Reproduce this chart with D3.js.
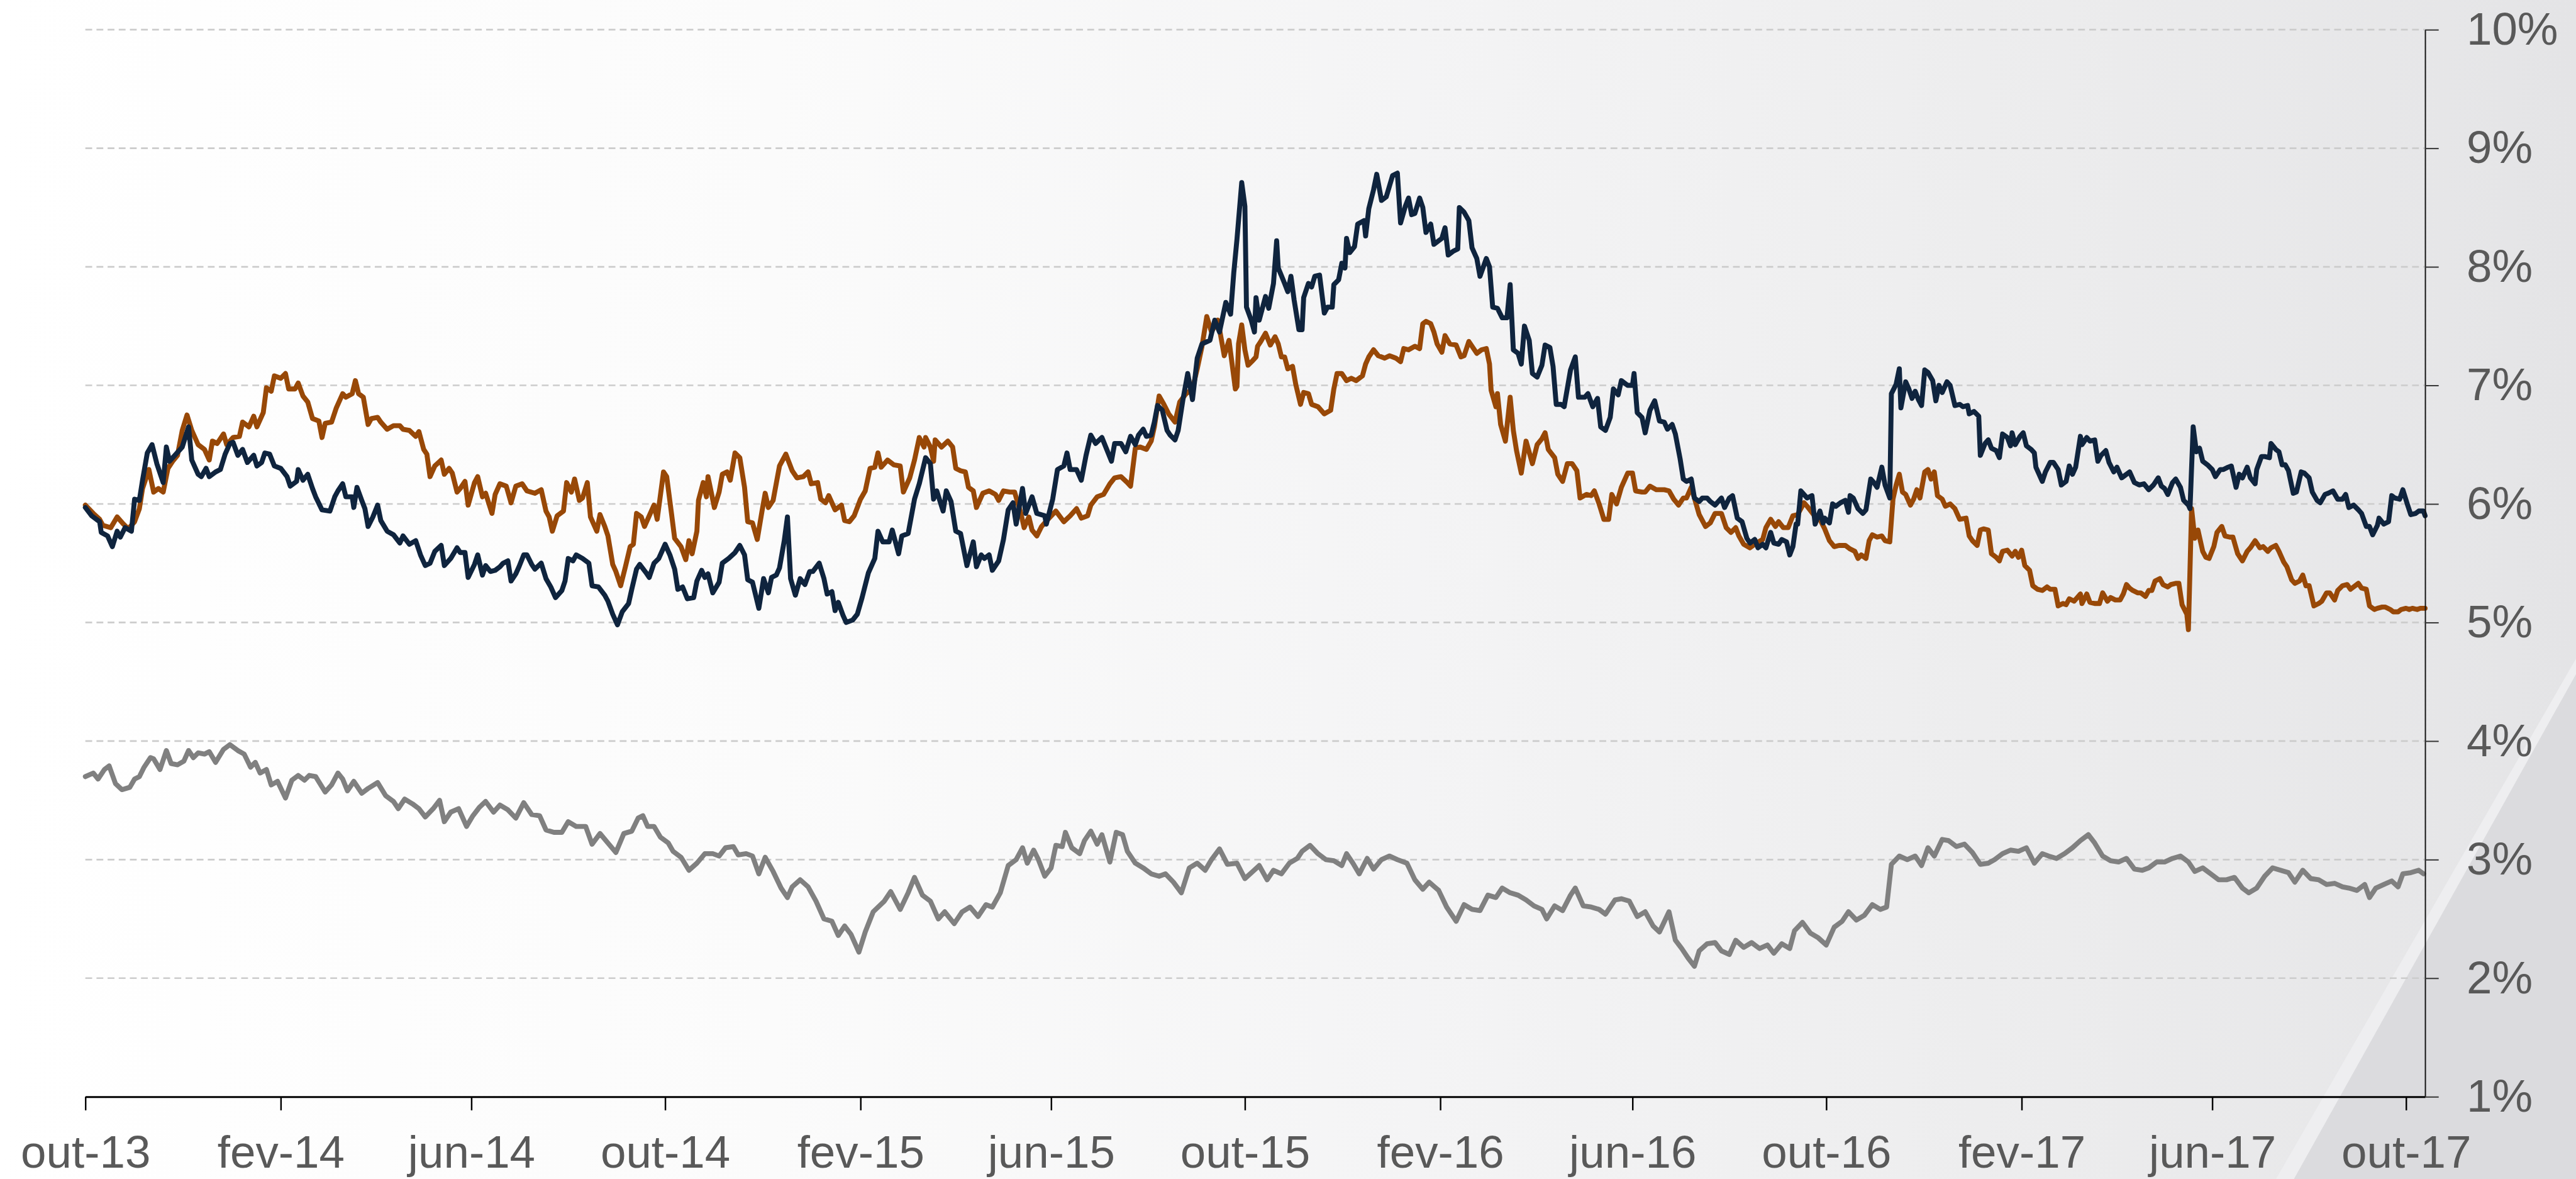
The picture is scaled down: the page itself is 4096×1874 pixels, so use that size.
<!DOCTYPE html>
<html>
<head>
<meta charset="utf-8">
<script src="https://cdn.jsdelivr.net/npm/d3@7"></script>
<style>
  body { margin: 0; overflow: hidden; background: #fff; }
  svg { display: block; }
</style>
</head>
<body>
<figure id="chart_view" style="margin:0"></figure>
<script>
// observation day = days counted from startDay, value = yield in %
const startDay = "2013-10-01";
const endDay = "2017-10-13";
const tickDates = ["2013-10-01", "2014-02-01", "2014-06-01", "2014-10-01", "2015-02-01", "2015-06-01",
  "2015-10-01", "2016-02-01", "2016-06-01", "2016-10-01", "2017-02-01", "2017-06-01", "2017-10-01"];
const yTicks = [1, 2, 3, 4, 5, 6, 7, 8, 9, 10];

const navySeries = [[0,5.97],[4,5.90],[9,5.85],[10,5.76],[14,5.73],[17,5.64],[20,5.77],[22,5.72],[25,5.80],[29,5.77],[31,6.04],[34,6.03],[36,6.20],[39,6.43],[42,6.50],[45,6.34],[49,6.18],[51,6.48],[53,6.36],[57,6.42],[61,6.48],[65,6.65],[67,6.37],[71,6.25],[73,6.23],[76,6.30],[78,6.23],[82,6.27],[85,6.29],[88,6.42],[91,6.51],[93,6.52],[96,6.41],[99,6.46],[102,6.35],[106,6.41],[108,6.32],[111,6.35],[113,6.43],[116,6.42],[119,6.32],[123,6.30],[127,6.23],[129,6.15],[133,6.19],[134,6.29],[137,6.20],[140,6.25],[143,6.13],[145,6.06],[149,5.95],[154,5.94],[157,6.06],[159,6.11],[162,6.17],[164,6.06],[168,6.06],[169,5.97],[171,6.14],[174,6.03],[176,5.96],[178,5.81],[181,5.89],[184,5.99],[186,5.86],[190,5.77],[194,5.74],[198,5.67],[200,5.73],[204,5.66],[208,5.69],[211,5.57],[214,5.48],[217,5.50],[220,5.60],[224,5.65],[226,5.48],[230,5.54],[234,5.63],[236,5.59],[239,5.59],[241,5.38],[245,5.49],[247,5.57],[250,5.40],[252,5.48],[255,5.43],[258,5.44],[261,5.47],[263,5.50],[266,5.52],[268,5.35],[271,5.41],[273,5.47],[276,5.57],[278,5.57],[281,5.49],[283,5.45],[287,5.50],[290,5.37],[293,5.30],[296,5.21],[300,5.27],[302,5.35],[304,5.54],[307,5.52],[309,5.57],[313,5.54],[317,5.50],[319,5.31],[323,5.30],[327,5.23],[329,5.18],[332,5.07],[335,4.98],[338,5.09],[342,5.16],[344,5.28],[347,5.45],[349,5.49],[353,5.42],
  [355,5.38],[358,5.50],[361,5.54],[365,5.66],[368,5.57],[371,5.45],[373,5.28],[376,5.30],[379,5.20],[383,5.21],[385,5.35],[388,5.44],[390,5.38],[392,5.41],[395,5.25],[399,5.34],[401,5.50],[405,5.54],[409,5.59],[412,5.65],[415,5.57],[417,5.36],[420,5.34],[424,5.12],[427,5.37],[430,5.25],[432,5.38],[435,5.40],[437,5.46],[440,5.69],[442,5.89],[444,5.37],[447,5.23],[450,5.37],[453,5.32],[456,5.43],[458,5.43],[462,5.50],[465,5.37],[467,5.24],[470,5.26],[472,5.10],[474,5.17],[477,5.06],[479,5.00],[483,5.02],[486,5.07],[489,5.21],[493,5.42],[497,5.54],[499,5.77],[502,5.68],[506,5.68],[508,5.78],[512,5.58],[514,5.73],[518,5.75],[522,6.04],[525,6.17],[529,6.39],[532,6.34],[534,6.04],[536,6.11],[540,5.94],[542,6.11],[545,6.02],[548,5.77],[551,5.75],[555,5.48],[559,5.68],[561,5.47],[564,5.57],[566,5.54],[569,5.57],[571,5.44],[575,5.52],[578,5.70],[581,5.95],[584,6.01],[586,5.83],[590,6.13],[592,5.92],[596,6.06],[599,5.92],[604,5.90],[605,5.83],[609,6.04],[612,6.29],[616,6.32],[618,6.43],[620,6.29],[624,6.29],[627,6.20],[630,6.41],[633,6.58],[636,6.51],[640,6.56],[643,6.46],[646,6.36],[648,6.51],[652,6.51],[655,6.44],[658,6.57],[661,6.50],[663,6.58],[666,6.63],[668,6.57],[671,6.58],[673,6.69],[675,6.83],[678,6.79],[681,6.62],[683,6.58],[686,6.54],[688,6.62],[691,6.88],[694,7.10],[697,6.88],[700,7.23],[703,7.35],[708,7.38],[711,7.55],[714,7.45],[718,7.70],[721,7.60],[723,7.95],
  [725,8.23],[728,8.71],[730,8.51],[731,7.66],[734,7.55],[736,7.45],[737,7.74],[739,7.55],[743,7.75],[745,7.65],[748,7.86],[750,8.22],[751,7.99],[755,7.86],[757,7.79],[759,7.92],[761,7.72],[764,7.47],[766,7.47],[767,7.74],[770,7.86],[772,7.83],[774,7.92],[777,7.93],[780,7.61],[782,7.66],[785,7.66],[786,7.85],[789,7.89],[791,8.03],[793,7.99],[794,8.24],[796,8.12],[799,8.17],[801,8.36],[805,8.39],[806,8.26],[808,8.49],[811,8.65],[813,8.78],[816,8.56],[819,8.59],[821,8.68],[823,8.77],[826,8.79],[828,8.37],[831,8.51],[833,8.58],[835,8.44],[837,8.45],[840,8.58],[842,8.50],[844,8.29],[847,8.36],[849,8.19],[852,8.22],[854,8.24],[856,8.33],[858,8.10],[861,8.13],[864,8.15],[865,8.50],[868,8.46],[871,8.39],[873,8.16],[876,8.07],[878,7.92],[882,8.07],[884,8.00],[886,7.66],[889,7.65],[892,7.57],[895,7.57],[897,7.85],[899,7.30],[902,7.27],[904,7.18],[906,7.50],[909,7.38],[911,7.10],[914,7.07],[917,7.17],[919,7.34],[922,7.32],[924,7.16],[926,6.84],[929,6.84],[931,6.82],[935,7.13],[938,7.24],[940,6.90],[944,6.90],[946,6.93],[949,6.82],[952,6.89],[954,6.65],[957,6.62],[960,6.73],[962,6.97],[965,6.92],[967,7.04],[971,7.00],[974,7.00],[975,7.10],[977,6.77],[980,6.73],[982,6.60],[985,6.79],[988,6.87],[991,6.70],[994,6.69],[996,6.63],[999,6.67],[1001,6.59],[1004,6.38],[1006,6.21],[1008,6.19],[1011,6.21],[1013,6.05],[1016,6.02],[1018,6.05],[1021,6.05],[1023,6.02],[1026,5.99],[1030,6.05],[1032,5.97],[1035,6.05],[1037,6.07],[1040,5.88],[1043,5.85],[1046,5.71],[1048,5.67],[1051,5.70],[1053,5.63],[1056,5.66],[1058,5.63],[1061,5.76],[1063,5.67],[1066,5.66],[1068,5.70],[1071,5.68],[1073,5.57],[1075,5.64],[1077,5.83],[1078,5.83],[1080,6.11],[1084,6.05],[1087,6.07],[1089,5.83],[1092,5.94],[1094,5.84],
  [1095,5.88],[1098,5.84],[1100,6.00],[1102,5.98],[1105,6.01],[1108,6.03],[1110,5.93],[1111,6.07],[1113,6.05],[1116,5.96],[1119,5.92],[1121,5.95],[1124,6.21],[1126,6.18],[1128,6.14],[1131,6.31],[1133,6.16],[1136,6.05],[1137,6.93],[1140,7.01],[1142,7.14],[1143,6.81],[1146,7.03],[1148,6.97],[1150,6.89],[1152,6.95],[1154,6.88],[1156,6.83],[1158,7.13],[1160,7.11],[1163,7.04],[1165,6.87],[1167,7.00],[1169,6.94],[1172,7.03],[1174,7.00],[1177,6.83],[1180,6.84],[1182,6.82],[1185,6.83],[1186,6.76],[1189,6.78],[1192,6.74],[1193,6.41],[1196,6.51],[1198,6.54],[1200,6.47],[1203,6.45],[1205,6.39],[1207,6.59],[1210,6.56],[1212,6.49],[1213,6.60],[1215,6.50],[1218,6.57],[1220,6.60],[1222,6.49],[1225,6.46],[1227,6.43],[1228,6.31],[1230,6.25],[1232,6.19],[1234,6.27],[1237,6.35],[1239,6.35],[1242,6.29],[1244,6.16],[1247,6.19],[1249,6.32],[1251,6.25],[1253,6.31],[1256,6.57],[1257,6.50],[1260,6.56],[1262,6.53],[1265,6.54],[1267,6.36],[1269,6.41],[1272,6.45],[1274,6.35],[1277,6.27],[1279,6.31],[1282,6.22],[1284,6.24],[1287,6.27],[1290,6.18],[1293,6.16],[1296,6.17],[1299,6.12],[1302,6.16],[1305,6.22],[1307,6.15],[1309,6.13],[1311,6.08],[1314,6.18],[1316,6.21],[1319,6.14],[1321,6.03],[1324,5.99],[1325,5.96],[1327,6.65],[1329,6.44],[1331,6.47],[1333,6.36],[1336,6.33],[1339,6.29],[1341,6.23],[1344,6.29],[1346,6.29],[1349,6.31],[1351,6.32],[1354,6.14],[1356,6.25],[1358,6.22],[1361,6.31],[1363,6.22],[1366,6.17],[1367,6.29],[1370,6.40],[1372,6.40],[1375,6.39],[1376,6.51],[1379,6.46],[1381,6.44],[1383,6.33],[1385,6.33],[1387,6.28],[1390,6.09],[1392,6.10],[1395,6.27],[1397,6.26],[1400,6.22],[1402,6.10],[1405,6.03],[1407,6.01],[1410,6.08],[1412,6.09],[1415,6.11],[1418,6.04],[1421,6.04],[1423,6.08],[1425,5.97],[1428,5.99],[1431,5.95],[1433,5.92],[1436,5.81],[1438,5.81],[1440,5.74],[1443,5.82],[1444,5.88],[1447,5.83],[1450,5.85],[1452,6.07],[1454,6.05],[1457,6.04],[1459,6.12],[1462,5.99],[1464,5.91],[1467,5.92],[1469,5.94],[1472,5.94],[1473,5.90]];

const brownSeries = [[0,5.99],[5,5.92],[9,5.87],[11,5.82],[16,5.80],[20,5.89],[24,5.83],[27,5.79],[31,5.85],[34,5.96],[36,6.13],[40,6.29],[43,6.10],[46,6.13],[49,6.10],[52,6.30],[55,6.36],[58,6.41],[61,6.62],[64,6.75],[67,6.62],[71,6.50],[75,6.46],[78,6.37],[80,6.53],[83,6.51],[87,6.59],[89,6.50],[93,6.56],[97,6.57],[99,6.69],[103,6.65],[106,6.74],[108,6.65],[112,6.77],[114,6.98],[117,6.95],[119,7.08],[123,7.06],[126,7.10],[128,6.97],[132,6.97],[134,7.02],[137,6.91],[140,6.86],[143,6.72],[147,6.70],[149,6.56],[151,6.68],[155,6.69],[158,6.81],[162,6.93],[164,6.90],[168,6.93],[170,7.04],[172,6.93],[175,6.90],[178,6.67],[180,6.72],[184,6.73],[186,6.69],[190,6.63],[194,6.66],[198,6.66],[200,6.63],[204,6.62],[208,6.57],[210,6.61],[213,6.46],[215,6.42],[217,6.23],[220,6.32],[224,6.37],[226,6.25],[229,6.30],[231,6.26],[234,6.10],[236,6.13],[239,6.19],[241,5.99],[245,6.18],[247,6.23],[250,6.06],[252,6.09],[256,5.92],[258,6.08],[261,6.17],[265,6.15],[268,6.01],[271,6.15],[275,6.17],[278,6.11],[283,6.09],[287,6.12],[290,5.94],[292,5.89],[294,5.77],[297,5.90],[301,5.94],[303,6.18],[306,6.10],[308,6.21],[311,6.03],[313,6.05],[316,6.18],[318,5.89],[322,5.77],[324,5.91],[327,5.81],[329,5.73],[332,5.49],[334,5.43],[337,5.31],[340,5.47],[343,5.64],[345,5.66],[347,5.92],[350,5.89],[352,5.81],
  [355,5.90],[358,5.99],[360,5.87],[364,6.27],[366,6.23],[369,5.92],[371,5.71],[375,5.64],[378,5.53],[380,5.69],[382,5.58],[385,5.77],[386,6.03],[389,6.18],[391,6.06],[392,6.23],[396,5.97],[399,6.10],[401,6.25],[404,6.27],[406,6.20],[409,6.43],[412,6.39],[415,6.14],[417,5.85],[420,5.84],[423,5.70],[426,5.94],[428,6.09],[430,5.97],[433,6.03],[437,6.32],[441,6.42],[445,6.28],[448,6.22],[452,6.23],[455,6.27],[457,6.17],[461,6.18],[463,6.04],[466,6.01],[468,6.07],[472,5.95],[476,5.99],[478,5.86],[481,5.85],[484,5.90],[488,6.04],[491,6.11],[494,6.30],[497,6.31],[499,6.43],[501,6.31],[505,6.37],[509,6.33],[513,6.32],[515,6.10],[519,6.22],[522,6.37],[525,6.56],[528,6.48],[529,6.56],[532,6.48],[534,6.36],[535,6.54],[539,6.48],[543,6.53],[546,6.48],[548,6.30],[551,6.28],[554,6.27],[556,6.14],[559,6.11],[561,5.97],[565,6.09],[569,6.11],[573,6.08],[575,6.03],[578,6.11],[582,6.10],[585,6.10],[589,5.92],[591,5.80],[594,5.89],[596,5.78],[599,5.73],[602,5.81],[606,5.87],[611,5.94],[616,5.85],[620,5.90],[624,5.96],[627,5.88],[631,5.90],[633,5.99],[637,6.06],[641,6.08],[645,6.17],[648,6.22],[652,6.23],[656,6.18],[658,6.15],[661,6.47],[664,6.48],[668,6.46],[671,6.53],[673,6.65],[676,6.91],[679,6.84],[682,6.76],[686,6.69],[689,6.86],[693,6.93],[697,6.97],[700,7.14],[703,7.33],[706,7.58],[709,7.45],[713,7.55],[717,7.25],[720,7.38],[724,6.97],
  [725,6.99],[726,7.35],[728,7.51],[730,7.30],[732,7.17],[735,7.21],[737,7.24],[738,7.33],[740,7.37],[743,7.44],[746,7.34],[749,7.41],[751,7.35],[753,7.24],[755,7.24],[757,7.14],[760,7.16],[762,7.01],[765,6.84],[767,6.94],[770,6.93],[772,6.84],[776,6.82],[780,6.76],[784,6.79],[786,6.97],[788,7.10],[791,7.10],[794,7.04],[797,7.06],[800,7.04],[804,7.08],[806,7.18],[808,7.24],[811,7.30],[814,7.25],[818,7.23],[821,7.25],[825,7.23],[828,7.20],[830,7.31],[833,7.30],[837,7.33],[840,7.31],[842,7.52],[844,7.54],[847,7.52],[849,7.45],[851,7.35],[854,7.28],[856,7.42],[859,7.35],[863,7.34],[866,7.24],[868,7.25],[871,7.37],[874,7.31],[876,7.27],[879,7.30],[882,7.31],[884,7.18],[885,6.96],[888,6.82],[889,6.93],[891,6.67],[894,6.53],[897,6.90],[899,6.62],[901,6.45],[904,6.26],[907,6.53],[911,6.34],[914,6.50],[917,6.55],[919,6.60],[921,6.46],[925,6.39],[927,6.25],[930,6.19],[933,6.34],[936,6.34],[939,6.28],[941,6.05],[945,6.08],[948,6.07],[950,6.11],[953,6.00],[956,5.87],[959,5.87],[961,6.08],[964,6.00],[967,6.14],[971,6.26],[974,6.26],[976,6.11],[980,6.10],[982,6.10],[985,6.15],[989,6.12],[994,6.12],[997,6.11],[1000,6.04],[1003,5.99],[1006,6.05],[1008,6.05],[1011,6.14],[1013,6.05],[1016,5.91],[1020,5.81],[1023,5.84],[1026,5.92],[1030,5.92],[1033,5.80],[1036,5.76],[1039,5.80],[1041,5.73],[1044,5.66],[1048,5.63],[1052,5.67],[1056,5.70],[1058,5.80],[1061,5.87],[1064,5.81],[1066,5.85],[1069,5.80],[1072,5.80],[1075,5.90],[1078,5.91],[1082,6.01],[1084,5.98],[1088,5.91],[1092,5.87],
  [1095,5.79],[1098,5.69],[1101,5.64],[1104,5.65],[1108,5.65],[1111,5.62],[1114,5.60],[1116,5.54],[1118,5.57],[1121,5.54],[1123,5.69],[1125,5.74],[1128,5.72],[1131,5.73],[1133,5.69],[1136,5.68],[1138,6.04],[1140,6.16],[1142,6.25],[1144,6.10],[1146,6.08],[1149,5.99],[1151,6.04],[1153,6.12],[1155,6.05],[1158,6.27],[1160,6.29],[1162,6.21],[1164,6.27],[1166,6.07],[1169,6.04],[1171,5.98],[1174,6.00],[1177,5.96],[1180,5.87],[1184,5.88],[1186,5.73],[1188,5.69],[1191,5.65],[1193,5.78],[1195,5.79],[1198,5.78],[1200,5.58],[1203,5.55],[1205,5.52],[1207,5.60],[1210,5.61],[1213,5.56],[1215,5.60],[1217,5.55],[1219,5.61],[1221,5.48],[1224,5.44],[1226,5.31],[1229,5.28],[1232,5.27],[1235,5.30],[1237,5.28],[1240,5.28],[1242,5.14],[1245,5.16],[1247,5.15],[1249,5.20],[1252,5.18],[1256,5.24],[1257,5.16],[1260,5.24],[1262,5.17],[1265,5.16],[1268,5.16],[1270,5.25],[1273,5.18],[1275,5.21],[1278,5.19],[1281,5.19],[1283,5.24],[1285,5.32],[1287,5.29],[1289,5.27],[1292,5.25],[1294,5.25],[1297,5.22],[1299,5.27],[1301,5.27],[1303,5.35],[1306,5.37],[1308,5.32],[1311,5.30],[1313,5.32],[1316,5.33],[1318,5.33],[1320,5.15],[1323,5.07],[1324,4.94],[1326,5.96],[1328,5.71],[1330,5.78],[1333,5.60],[1335,5.55],[1337,5.54],[1340,5.64],[1342,5.76],[1345,5.81],[1347,5.73],[1350,5.72],[1352,5.72],[1355,5.58],[1358,5.52],[1361,5.60],[1363,5.63],[1366,5.69],[1369,5.63],[1371,5.64],[1374,5.60],[1376,5.63],[1379,5.65],[1381,5.60],[1384,5.51],[1386,5.47],[1389,5.36],[1391,5.33],[1394,5.35],[1396,5.40],[1398,5.31],[1400,5.31],[1403,5.14],[1406,5.16],[1408,5.18],[1411,5.25],[1413,5.25],[1416,5.19],[1418,5.27],[1421,5.31],[1424,5.32],[1426,5.28],[1428,5.30],[1431,5.33],[1433,5.29],[1436,5.28],[1438,5.14],[1441,5.11],[1443,5.12],[1446,5.13],[1448,5.13],[1451,5.11],[1453,5.09],[1456,5.09],[1458,5.11],[1461,5.12],[1463,5.11],[1465,5.12],[1468,5.11],[1470,5.12],[1473,5.12]];

const graySeries = [[0,3.70],[5,3.73],[8,3.68],[12,3.76],[15,3.79],[19,3.64],[23,3.59],[28,3.61],[31,3.68],[34,3.70],[37,3.78],[41,3.86],[43,3.85],[47,3.76],[51,3.92],[54,3.81],[58,3.80],[62,3.83],[65,3.92],[68,3.86],[71,3.90],[75,3.89],[78,3.91],[82,3.82],[87,3.93],[91,3.97],[96,3.92],[100,3.89],[104,3.78],[107,3.82],[110,3.73],[114,3.76],[117,3.63],[121,3.66],[126,3.52],[130,3.67],[134,3.71],[138,3.67],[141,3.71],[145,3.70],[151,3.57],[155,3.63],[159,3.73],[162,3.68],[165,3.58],[169,3.66],[174,3.56],[178,3.60],[184,3.65],[189,3.54],[194,3.49],[197,3.43],[201,3.51],[206,3.47],[210,3.43],[214,3.36],[219,3.43],[223,3.50],[226,3.32],[230,3.40],[235,3.43],[240,3.28],[244,3.37],[248,3.44],[252,3.49],[257,3.40],[261,3.46],[266,3.42],[271,3.35],[276,3.48],[281,3.38],[286,3.37],[290,3.25],[295,3.23],[300,3.23],[304,3.32],[309,3.28],[315,3.28],[319,3.13],[324,3.22],[329,3.14],[334,3.06],[339,3.22],[344,3.24],[348,3.35],[351,3.37],[354,3.28],[358,3.28],[362,3.19],[367,3.14],[370,3.07],[375,3.02],[380,2.91],[385,2.97],[390,3.05],[395,3.05],[399,3.03],[403,3.10],[408,3.11],[411,3.04],[416,3.05],[420,3.03],[424,2.88],[428,3.02],[433,2.90],[438,2.76],[442,2.68],[445,2.77],[450,2.83],[455,2.77],[460,2.65],[465,2.50],[470,2.48],[474,2.36],[478,2.44],[482,2.37],[487,2.22],[491,2.39],[496,2.56],[503,2.65],[507,2.73],[513,2.58],[518,2.72],[522,2.85],[527,2.70],[532,2.65],[537,2.50],[541,2.56],[547,2.46],[552,2.56],[557,2.60],[562,2.52],[567,2.62],[571,2.60],[576,2.72],[581,2.95],[586,3.00],[590,3.10],[593,2.97],[597,3.08],[600,3.00],[604,2.86],[608,2.93],[611,3.12],[615,3.11],[617,3.23],[621,3.10],[626,3.05],[629,3.16],[633,3.24],[637,3.13],[640,3.21],[645,2.98],[649,3.23],[653,3.21],[656,3.07],[661,2.97],[666,2.93],[671,2.88],[676,2.86],[680,2.88],[685,2.81],[690,2.72],[695,2.93],[700,2.97],[705,2.91],[709,3.00],[714,3.09],[719,2.96],
  [725,2.97],[730,2.84],[735,2.90],[739,2.95],[744,2.83],[748,2.91],[753,2.88],[758,2.97],[763,3.01],[766,3.07],[771,3.12],[776,3.05],[781,3.00],[786,2.99],[791,2.95],[794,3.05],[798,2.97],[802,2.88],[807,3.01],[811,2.92],[816,3.00],[821,3.03],[826,3.00],[832,2.97],[837,2.83],[842,2.75],[846,2.81],[852,2.74],[857,2.60],[863,2.48],[868,2.62],[873,2.58],[878,2.57],[883,2.70],[888,2.68],[892,2.76],[897,2.72],[902,2.70],[907,2.66],[912,2.61],[917,2.58],[920,2.50],[925,2.61],[930,2.57],[935,2.70],[938,2.76],[943,2.61],[948,2.60],[953,2.58],[957,2.54],[963,2.66],[967,2.67],[972,2.65],[977,2.52],[982,2.56],[987,2.44],[991,2.39],[997,2.56],[1001,2.32],[1005,2.25],[1009,2.17],[1013,2.10],[1016,2.23],[1021,2.29],[1026,2.30],[1030,2.23],[1035,2.20],[1039,2.32],[1044,2.26],[1049,2.30],[1054,2.25],[1059,2.28],[1063,2.21],[1068,2.29],[1073,2.25],[1076,2.40],[1081,2.47],[1086,2.38],[1091,2.34],[1096,2.28],[1101,2.43],[1106,2.48],[1110,2.56],[1115,2.49],[1120,2.53],[1125,2.62],[1130,2.58],[1134,2.60],[1137,2.96],[1142,3.03],[1147,3.00],[1152,3.03],[1156,2.95],[1160,3.10],[1164,3.03],[1169,3.17],[1173,3.16],[1178,3.11],[1183,3.13],[1188,3.06],[1193,2.96],[1198,2.97],[1202,3.00],[1207,3.05],[1212,3.08],[1217,3.07],[1222,3.10],[1227,2.97],[1232,3.05],[1236,3.03],[1241,3.01],[1246,3.05],[1251,3.10],[1256,3.16],[1261,3.21],[1265,3.14],[1270,3.03],[1275,2.99],[1280,2.98],[1285,3.01],[1290,2.92],[1295,2.91],[1299,2.93],[1304,2.98],[1309,2.98],[1314,3.01],[1319,3.03],[1324,2.98],[1328,2.90],[1333,2.93],[1338,2.88],[1343,2.83],[1348,2.83],[1353,2.85],[1358,2.76],[1362,2.72],[1367,2.76],[1372,2.86],[1377,2.93],[1382,2.91],[1387,2.89],[1391,2.81],[1396,2.91],[1401,2.84],[1406,2.83],[1411,2.79],[1416,2.80],[1421,2.77],[1425,2.76],[1430,2.74],[1435,2.79],[1438,2.68],[1442,2.76],[1447,2.79],[1452,2.82],[1456,2.77],[1459,2.88],[1464,2.89],[1469,2.91],[1472,2.88]];

const seriesColors = ["#808080", "#984807", "#0f243e"];

// drawing at reference size, viewBox scales it down to the window
var width = 4165;
var height = 1906;
var plotLeft = 138, plotRight = 3921, plotTop = 48, plotBottom = 1773;

const parseDay = d3.timeParse("%Y-%m-%d");
const start = parseDay(startDay);

const pt = d3.timeFormatLocale({
  dateTime: "%A, %e de %B de %Y. %X",
  date: "%d/%m/%Y",
  time: "%H:%M:%S",
  periods: ["AM", "PM"],
  days: ["domingo", "segunda", "terça", "quarta", "quinta", "sexta", "sábado"],
  shortDays: ["dom", "seg", "ter", "qua", "qui", "sex", "sáb"],
  months: ["janeiro", "fevereiro", "março", "abril", "maio", "junho", "julho", "agosto", "setembro", "outubro", "novembro", "dezembro"],
  shortMonths: ["jan", "fev", "mar", "abr", "mai", "jun", "jul", "ago", "set", "out", "nov", "dez"]
});

const x = d3.scaleTime()
  .domain([start, parseDay(endDay)])
  .range([plotLeft, plotRight]);

const y = d3.scaleLinear()
  .domain([1, 10])
  .range([plotBottom, plotTop]);

var svg = d3.select("figure#chart_view")
  .append("svg")
  .attr("width", 4096)
  .attr("height", 1874)
  .attr("viewBox", "0 0 " + width + " " + height)
  .attr("preserveAspectRatio", "none");

const defs = svg.append("defs");
const grad = defs.append("linearGradient")
  .attr("id", "bg")
  .attr("x1", "0").attr("y1", "0").attr("x2", "1").attr("y2", "0");
[[0, "#ffffff"], [0.3, "#fbfbfb"], [0.55, "#f4f4f5"], [0.8, "#ececed"], [1, "#e4e4e6"]]
  .forEach(s => grad.append("stop").attr("offset", s[0]).attr("stop-color", s[1]));

svg.append("rect")
  .attr("width", width)
  .attr("height", height)
  .attr("fill", "url(#bg)");

// corner decoration
svg.append("polygon")
  .attr("points", "4165,1065 4165,1090 3709,1906 3680,1906")
  .attr("fill", "#eeeef0");
svg.append("polygon")
  .attr("points", "4165,1090 4165,1906 3709,1906")
  .attr("fill", "#dbdbde");

// dashed grid
svg.append("g")
  .selectAll("line")
  .data(yTicks.filter(d => d > 1))
  .join("line")
  .attr("x1", plotLeft)
  .attr("x2", plotRight)
  .attr("y1", d => y(d))
  .attr("y2", d => y(d))
  .attr("stroke", "#cccccc")
  .attr("stroke-width", 2.7)
  .attr("stroke-dasharray", "11,7");

const line = d3.line()
  .x(d => x(d3.timeDay.offset(start, d[0])))
  .y(d => y(d[1]));

svg.append("g")
  .selectAll("path")
  .data([graySeries, brownSeries, navySeries])
  .join("path")
  .attr("d", line)
  .attr("fill", "none")
  .attr("stroke", (d, i) => seriesColors[i])
  .attr("stroke-width", 8)
  .attr("stroke-linejoin", "round")
  .attr("stroke-linecap", "round");

const xAxis = svg.append("g")
  .attr("transform", "translate(0," + plotBottom + ")")
  .call(d3.axisBottom(x)
    .tickValues(tickDates.map(parseDay))
    .tickFormat(pt.format("%b-%y"))
    .tickSize(22)
    .tickSizeOuter(0)
    .tickPadding(40));

const yAxis = svg.append("g")
  .attr("transform", "translate(" + plotRight + ",0)")
  .call(d3.axisRight(y)
    .tickValues(yTicks)
    .tickFormat(d => d + "%")
    .tickSize(22)
    .tickSizeOuter(0)
    .tickPadding(45));

[xAxis, yAxis].forEach(g => {
  g.attr("font-family", "'Liberation Sans', Arial, sans-serif")
    .attr("font-size", 74);
  g.selectAll("text").attr("fill", "#595959");
});

xAxis.select(".domain").attr("stroke", "#000").attr("stroke-width", 3);
xAxis.selectAll(".tick line").attr("stroke", "#000").attr("stroke-width", 2.5);
yAxis.select(".domain").attr("stroke", "#111").attr("stroke-width", 2);
yAxis.selectAll(".tick line").attr("stroke", "#333").attr("stroke-width", 2);
</script>
</body>
</html>
